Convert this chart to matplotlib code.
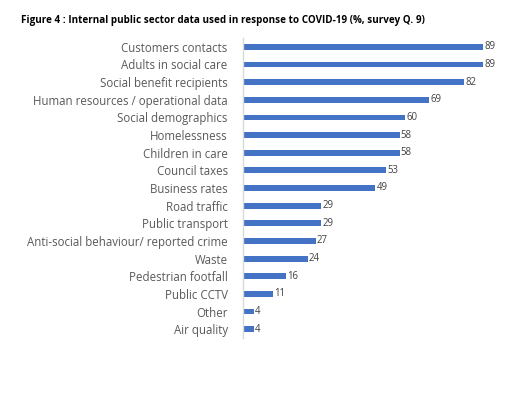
import matplotlib
matplotlib.use("Agg")
import matplotlib.pyplot as plt

categories = ["Customers contacts", "Adults in social care", "Social benefit recipients",
              "Human resources / operational data", "Social demographics", "Homelessness",
              "Children in care", "Council taxes", "Business rates", "Road traffic",
              "Public transport", "Anti-social behaviour/ reported crime", "Waste",
              "Pedestrian footfall", "Public CCTV", "Other", "Air quality"]
values = [89, 89, 82, 69, 60, 58, 58, 53, 49, 29, 29, 27, 24, 16, 11, 4, 4]
title = "Figure 4 : Internal public sector data used in response to COVID-19 (%, survey Q. 9)"

plt.rcParams['font.family'] = ['Open Sans', 'DejaVu Sans']
fig = plt.figure(figsize=(5.15, 3.98), dpi=100)
ax = fig.add_axes([243/515, 1-338/398, 270/515, 300/398])
y = list(range(len(categories)))
ax.barh(y, values, height=0.33, color="#4472C4")
ax.set_ylim(16.5, -0.5)
ax.set_xlim(0, 100)
for yi, v in zip(y, values):
    ax.text(v + 0.4, yi, str(v), va="center", ha="left", fontsize=6.9, color="#404040")
ax.set_yticks(y)
ax.set_yticklabels(categories, fontsize=8.3, color="#595959")
ax.tick_params(axis="y", length=0, pad=11)
ax.set_xticks([])
for s in ["top", "right", "bottom"]:
    ax.spines[s].set_visible(False)
ax.spines["left"].set_color("#D9D9D9")
ax.spines["left"].set_linewidth(1)
fig.text(21/515, 1-20/398, title, fontsize=7.1, fontweight="bold", color="black", va="center", ha="left")
fig.savefig("out.png", dpi=100)
